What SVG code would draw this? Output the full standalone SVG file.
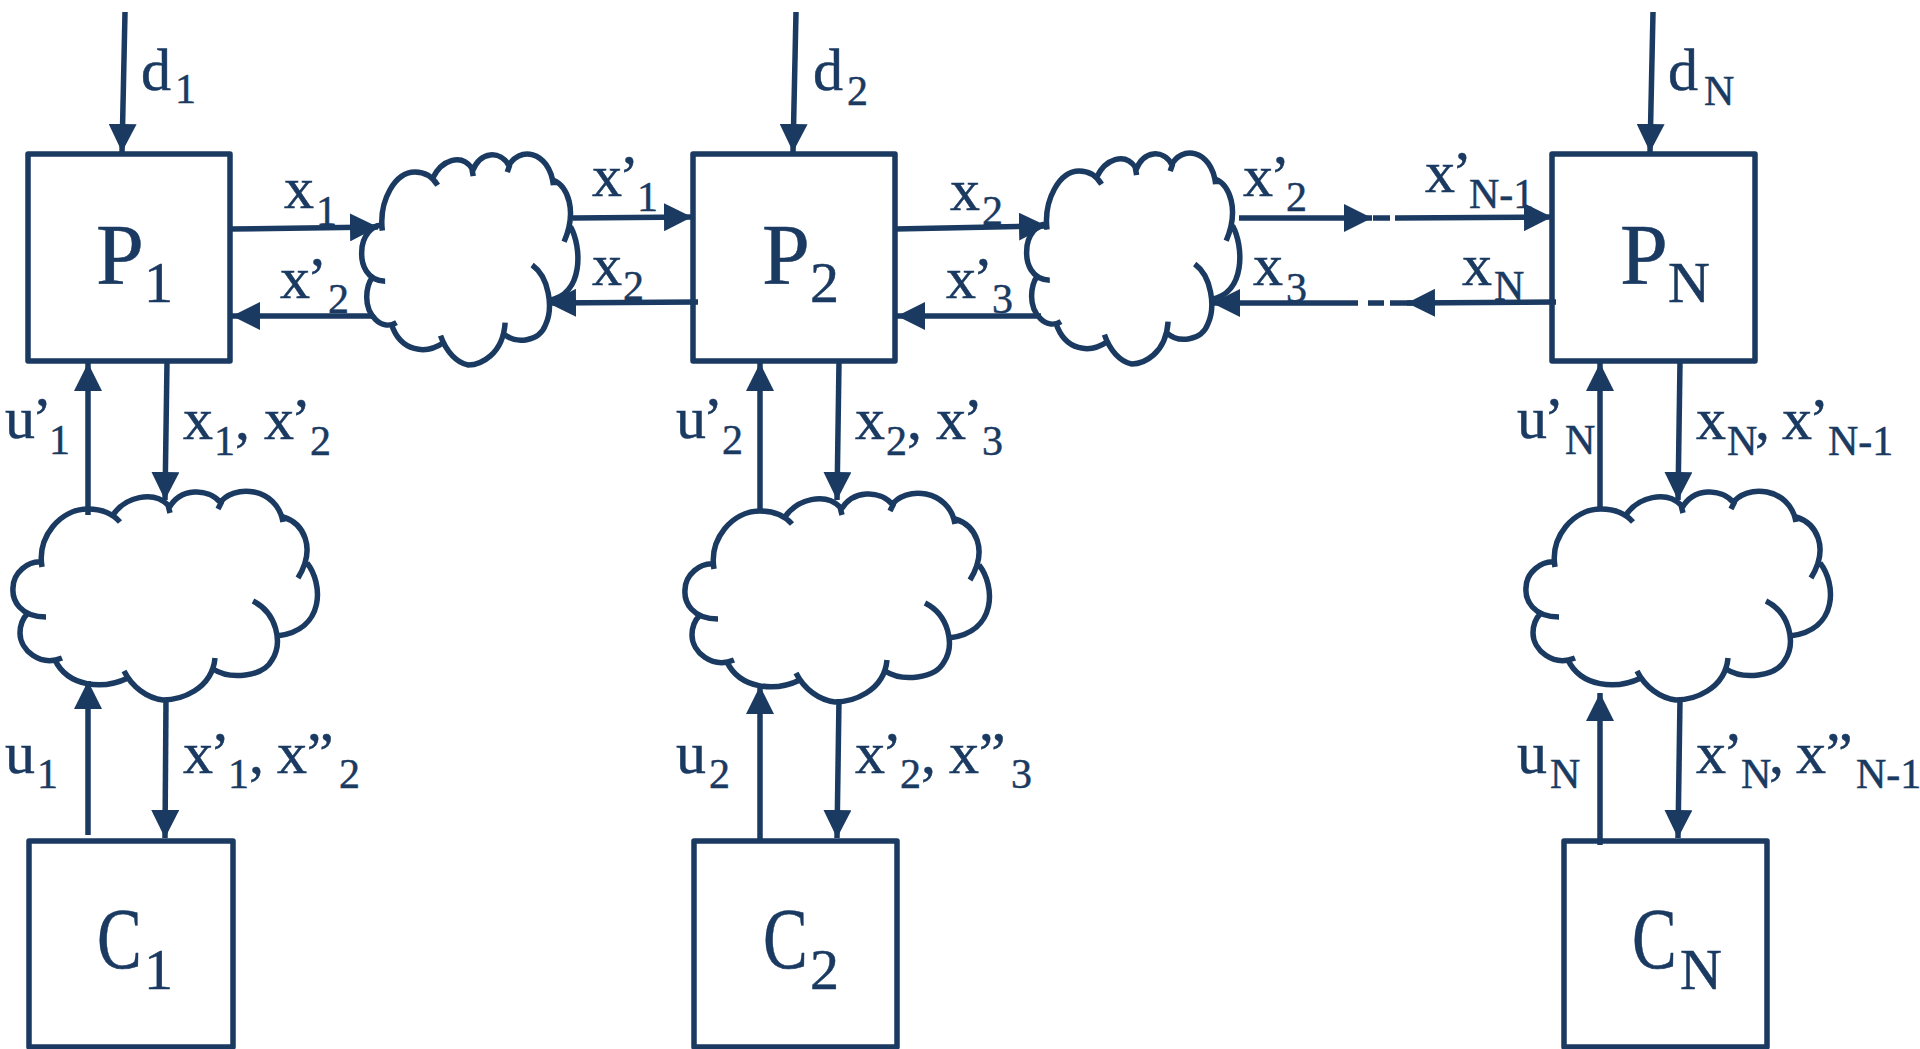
<svg xmlns="http://www.w3.org/2000/svg" xmlns:xlink="http://www.w3.org/1999/xlink" width="1920" height="1049" viewBox="0 0 1920 1049">
<style>
.box{fill:none;stroke:#1a3a61;stroke-width:5.5;stroke-linejoin:round}
.cloud{fill:none;stroke:#1a3a61;stroke-width:5.5;vector-effect:non-scaling-stroke}
.c{stroke:#1a3a61;stroke-width:5.5;fill:none}
.a{marker-end:url(#ah)}
text{font-family:"Liberation Serif",Cambria,serif;fill:#1a3a61;stroke:#1a3a61;stroke-width:.5}
.m{font-size:60px}.s{font-size:42px}
.p{letter-spacing:-3px}
.M{font-size:86px}.S{font-size:58px}
</style>
<defs>
<marker id="ah" markerUnits="userSpaceOnUse" markerWidth="30" markerHeight="28" refX="28" refY="14" orient="auto"><path d="M0,0L28,14L0,28Z" fill="#1a3a61"/></marker>
<path id="cl" class="cloud" d="M42,567C37,537 60,509 88,509C100,509 112,513 120,522M113,515C125,497 153,490 168,505L170,513M169,508C180,488 208,487 221,503L218,509M219,504C233,483 277,487 283,522M283,517C303,523 317,547 298,578M307,563C323,583 326,630 277,636M253,601C277,613 283,643 272,660C263,677 230,680 213,669M215,658C212,690 180,700 163,700C147,698 132,687 124,671M128,678C103,690 68,687 55,660M62,658C40,667 20,650 20,633C20,625 23,618 28,613M46,617C20,617 12,600 13,588C13,573 28,560 43,562"/>
</defs>
<rect width="1920" height="1049" fill="#fff"/>
<g id="connectors">
<path class="c a" d="M125,12L122,152"/><path class="c a" d="M796,12L793,152"/><path class="c a" d="M1653,12L1650,152"/>
<path class="c a" d="M230,229L378,227"/><path class="c a" d="M373,316L232,316"/><path class="c a" d="M573,218L692,217"/><path class="c a" d="M698,302L548,303"/>
<path class="c a" d="M895,229L1047,226"/><path class="c a" d="M1041,316L897,316"/>
<path class="c a" d="M1239,218L1372,218"/><path class="c" d="M1373,218H1390"/><path class="c a" d="M1395,218L1552,217"/>
<path class="c a" d="M1358,303L1212,303"/><path class="c" d="M1368,303H1384"/><path class="c" d="M1390,303H1412"/><path class="c a" d="M1556,302L1407,303"/>
<path class="c a" d="M88,515V363"/><path class="c a" d="M167,362L165,500"/><path class="c a" d="M88,835V681"/><path class="c a" d="M166,699L165,838"/>
<path class="c a" d="M760,512V363"/><path class="c a" d="M839,362L837,500"/><path class="c a" d="M760,840V686"/><path class="c a" d="M839,699L837,838"/>
<path class="c a" d="M1600,510V363"/><path class="c a" d="M1680,362L1678,500"/><path class="c a" d="M1600,845V693"/><path class="c a" d="M1680,699L1678,838"/>
</g>
<g id="cloud-p12"><use xlink:href="#cl" href="#cl" transform="translate(352.5 -342) scale(.71 1.01)"/></g>
<g id="cloud-p23"><use xlink:href="#cl" href="#cl" transform="translate(1017.6 -343) scale(.7 1.01)"/></g>
<g id="cloud-1"><use xlink:href="#cl" href="#cl"/></g>
<g id="cloud-2"><use xlink:href="#cl" href="#cl" transform="translate(672 2)"/></g>
<g id="cloud-n"><use xlink:href="#cl" href="#cl" transform="translate(1513 0)"/></g>
<g id="P1"><rect class="box" x="28" y="154" width="202" height="207"/><text class="M" x="96" y="284">P</text><text class="S" x="144" y="302">1</text></g>
<g id="P2"><rect class="box" x="693" y="154" width="202" height="207"/><text class="M" x="762" y="284">P</text><text class="S" x="810" y="302">2</text></g>
<g id="PN"><rect class="box" x="1552" y="154" width="203" height="207"/><text class="M" x="1620" y="284">P</text><text class="S" x="1668" y="302">N</text></g>
<g id="C1"><rect class="box" x="29" y="841" width="204" height="206"/><text class="M" transform="translate(97 968) scale(.78 1)">C</text><text class="S" x="144" y="989">1</text></g>
<g id="C2"><rect class="box" x="694" y="841" width="203" height="206"/><text class="M" transform="translate(763 968) scale(.78 1)">C</text><text class="S" x="810" y="989">2</text></g>
<g id="CN"><rect class="box" x="1564" y="841" width="203" height="206"/><text class="M" transform="translate(1632 968) scale(.78 1)">C</text><text class="S" x="1680" y="989">N</text></g>
<g id="labels">
<text class="m" x="141" y="90">d</text><text class="s" x="175" y="103">1</text>
<text class="m" x="813" y="90">d</text><text class="s" x="847" y="105">2</text>
<text class="m" x="1668" y="90">d</text><text class="s" x="1704" y="105">N</text>
<text class="m" x="284" y="208">x</text><text class="s" x="316" y="225">1</text>
<text class="m p" x="280" y="298">x’</text><text class="s" x="328" y="313">2</text>
<text class="m p" x="592" y="196">x’</text><text class="s" x="637" y="211">1</text>
<text class="m" x="592" y="285">x</text><text class="s" x="623" y="300">2</text>
<text class="m" x="950" y="210">x</text><text class="s" x="982" y="225">2</text>
<text class="m p" x="946" y="298">x’</text><text class="s" x="992" y="313">3</text>
<text class="m p" x="1243" y="196">x’</text><text class="s" x="1286" y="211">2</text>
<text class="m" x="1253" y="285">x</text><text class="s" x="1286" y="302">3</text>
<text class="m p" x="1425" y="192">x’</text><text class="s" x="1469" y="208">N-1</text>
<text class="m" x="1462" y="285">x</text><text class="s" x="1494" y="300">N</text>
<text class="m p" x="5" y="438">u’</text><text class="s" x="49" y="454">1</text>
<text class="m" x="183" y="439">x</text><text class="s" x="214" y="455">1</text><text class="m" x="235" y="439">,</text><text class="m p" x="264" y="439">x’</text><text class="s" x="310" y="455">2</text>
<text class="m p" x="676" y="438">u’</text><text class="s" x="722" y="454">2</text>
<text class="m" x="855" y="439">x</text><text class="s" x="886" y="455">2</text><text class="m" x="907" y="439">,</text><text class="m p" x="936" y="439">x’</text><text class="s" x="982" y="455">3</text>
<text class="m p" x="1517" y="438">u’</text><text class="s" x="1565" y="454">N</text>
<text class="m" x="1696" y="439">x</text><text class="s" x="1727" y="455">N</text><text class="m" x="1755" y="439">,</text><text class="m p" x="1782" y="439">x’</text><text class="s" x="1828" y="455">N-1</text>
<text class="m" x="5" y="773">u</text><text class="s" x="37" y="788">1</text>
<text class="m" x="676" y="773">u</text><text class="s" x="709" y="788">2</text>
<text class="m" x="1517" y="773">u</text><text class="s" x="1550" y="788">N</text>
<text class="m p" x="183" y="773">x’</text><text class="s" x="228" y="788">1</text><text class="m" x="249" y="773">,</text><text class="m p" x="277" y="773">x’’</text><text class="s" x="339" y="788">2</text>
<text class="m p" x="855" y="773">x’</text><text class="s" x="900" y="788">2</text><text class="m" x="921" y="773">,</text><text class="m p" x="949" y="773">x’’</text><text class="s" x="1011" y="788">3</text>
<text class="m p" x="1696" y="773">x’</text><text class="s" x="1741" y="788">N</text><text class="m" x="1769" y="773">,</text><text class="m p" x="1796" y="773">x’’</text><text class="s" x="1856" y="788">N-1</text>
</g>
</svg>
